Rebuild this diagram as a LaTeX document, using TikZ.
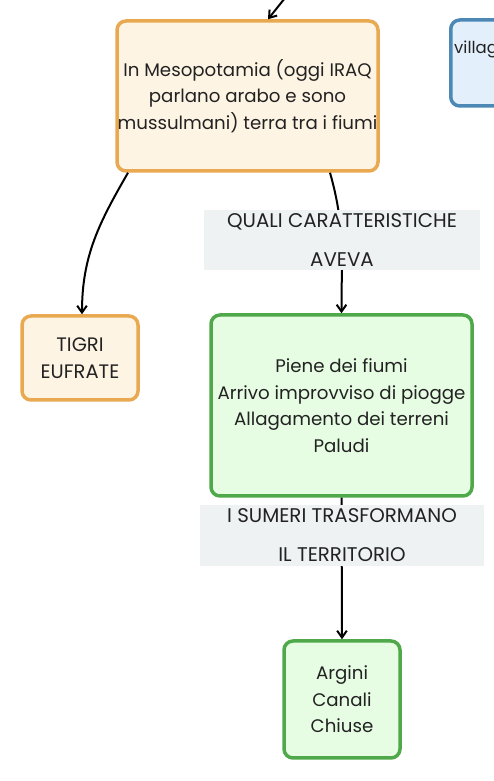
\documentclass[tikz,border=0pt]{standalone}
\usepackage{fontspec}
\setmainfont{Poppins}
\usetikzlibrary{arrows.meta,positioning}
\definecolor{orabrd}{HTML}{E8A951}
\definecolor{orafill}{HTML}{FEF4E4}
\definecolor{grnbrd}{HTML}{4FA84A}
\definecolor{grnfill}{HTML}{E6FDE3}
\definecolor{blubrd}{HTML}{4C88B5}
\definecolor{blufill}{HTML}{E3F0FB}
\definecolor{lblfill}{HTML}{EEF2F3}
\definecolor{txtc}{HTML}{222222}
\tikzset{
  ar/.style={-{Straight Barb[length=2.4mm,width=3.4mm]},line width=2pt,black},
  box/.style={rounded corners=9pt,line width=3.5pt,align=center,inner sep=0pt,text=txtc,
    font=\fontsize{18.2}{26.5}\selectfont},
  capsbox/.style={font=\fontsize{19.5}{26.5}\selectfont},
  obox/.style={box,draw=orabrd,fill=orafill},
  gbox/.style={box,draw=grnbrd,fill=grnfill},
  bbox/.style={box,draw=blubrd,fill=blufill},
  lbl/.style={fill=lblfill,inner sep=0pt,align=center,text=txtc,
    font=\fontsize{19.8}{39}\selectfont}
}
\begin{document}
\begin{tikzpicture}[x=1pt,y=1pt]
\useasboundingbox (0,0) rectangle (494,781);
\clip (0,0) rectangle (494,781);
% boxes
\node[obox,minimum width=261,minimum height=150] (meso) at (247.5,685)
  {In Mesopotamia (oggi IRAQ\\parlano arabo e sono\\mussulmani) terra tra i fiumi};
\node[bbox,minimum width=220,minimum height=86,anchor=west] (vill) at (449,718) {};
\node[anchor=base west,inner sep=0pt,text=txtc,font=\fontsize{16.5}{26.5}\selectfont] (villt) at (454,727) {villaggi};
\node[obox,capsbox,minimum width=116,minimum height=84] (fiumi) at (80,423) {TIGRI\\EUFRATE};
\node[gbox,minimum width=261,minimum height=181] (piene) at (341.5,375.5)
  {Piene dei fiumi\\Arrivo improvviso di piogge\\Allagamento dei terreni\\Paludi};
\node[gbox,minimum width=116,minimum height=117] (opere) at (342,81.5) {Argini\\Canali\\Chiuse};
% connectors
\coordinate (incoming) at (289,788);
\draw[ar] (incoming) -- ([xshift=20.5]meso.north);
\draw[ar] ([xshift=-119.5]meso.south) to[out=240,in=90] ([xshift=2]fiumi.north);
\draw[ar] ([xshift=82.5]meso.south) to[out=-74,in=90] (piene.north);
\draw[ar] (piene.south) -- (opere.north);
% labels
\node[lbl,minimum width=276,minimum height=60] (qual) at (342,541) {QUALI CARATTERISTICHE\\AVEVA};
\node[lbl,minimum width=284,minimum height=61] (trasf) at (342,245.5) {I SUMERI TRASFORMANO\\IL TERRITORIO};
\end{tikzpicture}
\end{document}
